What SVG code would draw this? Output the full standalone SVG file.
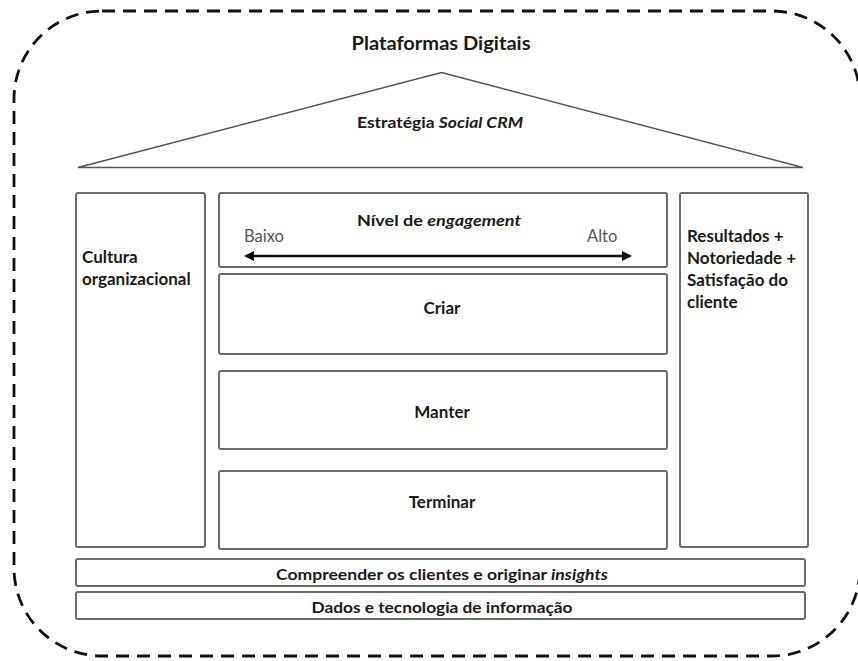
<svg xmlns="http://www.w3.org/2000/svg" width="858" height="661" viewBox="0 0 858 661">
  <defs>
    <style>
      .frame { fill: none; stroke: #111; stroke-width: 2.8; stroke-dasharray: 13 8; }
      .roof { fill: #fff; stroke: #555; stroke-width: 1.6; stroke-linejoin: miter; }
      .box { fill: #fff; stroke: #6a6a6a; stroke-width: 2; }
      .lbl { font-family: Lato, "Open Sans", "Liberation Sans", sans-serif; font-weight: 700; fill: #1a1a1a; }
      .title { font-size: 19px; }
      .head { font-size: 16px; }
      .body { font-size: 17px; }
      .scale { font-family: Lato, "Open Sans", "Liberation Sans", sans-serif; font-size: 16.5px; fill: #555; }
      .mid { text-anchor: middle; }
      .it { font-style: italic; }
      .axis { stroke: #111; stroke-width: 2.6; fill: none; }
    </style>
    <marker id="head" viewBox="0 0 10 10" refX="8" refY="5" markerWidth="4" markerHeight="4" orient="auto-start-reverse" markerUnits="strokeWidth">
      <path d="M0,0 L10,5 L0,10 z" fill="#111"/>
    </marker>
  </defs>

  <rect width="858" height="661" fill="#fff"/>

  <!-- outer dashed frame: digital platforms -->
  <g id="platforms">
    <rect class="frame" x="14" y="11" width="846" height="645" rx="88" ry="88"/>
    <text class="lbl title mid" x="441" y="50" textLength="179" lengthAdjust="spacingAndGlyphs">Plataformas Digitais</text>
  </g>

  <!-- roof: strategy -->
  <g id="strategy">
    <polygon class="roof" points="78,167.5 441.5,72.5 803,167.5"/>
    <text class="lbl head mid" x="440" y="128" textLength="166" lengthAdjust="spacingAndGlyphs">Estratégia <tspan class="it">Social CRM</tspan></text>
  </g>

  <!-- left pillar -->
  <g id="culture">
    <rect class="box" x="76" y="193" width="129" height="354" rx="2"/>
    <text class="lbl body" x="82" y="263">Cultura</text>
    <text class="lbl body" x="82" y="285">organizacional</text>
  </g>

  <!-- engagement scale -->
  <g id="engagement">
    <rect class="box" x="219" y="193" width="448" height="74" rx="2"/>
    <text class="lbl head mid" x="439" y="226" textLength="164" lengthAdjust="spacingAndGlyphs">Nível de <tspan class="it">engagement</tspan></text>
    <text class="scale" x="244" y="242">Baixo</text>
    <text class="scale" x="587" y="242">Alto</text>
  </g>

  <g id="create">
    <rect class="box" x="219" y="274" width="448" height="80" rx="2"/>
    <text class="lbl body mid" x="442" y="314">Criar</text>
  </g>

  <g id="maintain">
    <rect class="box" x="219" y="371" width="448" height="78" rx="2"/>
    <text class="lbl body mid" x="442" y="418">Manter</text>
  </g>

  <g id="terminate">
    <rect class="box" x="219" y="471" width="448" height="78" rx="2"/>
    <text class="lbl body mid" x="442" y="508">Terminar</text>
  </g>

  <!-- right pillar -->
  <g id="results">
    <rect class="box" x="680" y="193" width="128" height="354" rx="2"/>
    <text class="lbl body" x="687" y="242">Resultados +</text>
    <text class="lbl body" x="687" y="264">Notoriedade +</text>
    <text class="lbl body" x="687" y="286">Satisfação do</text>
    <text class="lbl body" x="687" y="308">cliente</text>
  </g>

  <!-- foundation bars -->
  <g id="insights">
    <rect class="box" x="76" y="559" width="729" height="27" rx="2"/>
    <text class="lbl head mid" x="442" y="580" textLength="332" lengthAdjust="spacingAndGlyphs">Compreender os clientes e originar <tspan class="it">insights</tspan></text>
  </g>

  <g id="data">
    <rect class="box" x="76" y="592" width="729" height="27" rx="2"/>
    <text class="lbl head mid" x="442" y="613" textLength="261" lengthAdjust="spacingAndGlyphs">Dados e tecnologia de informação</text>
  </g>

  <!-- connectors -->
  <g id="connectors">
    <line class="axis" x1="246" y1="256" x2="630" y2="256" marker-start="url(#head)" marker-end="url(#head)"/>
  </g>
</svg>
